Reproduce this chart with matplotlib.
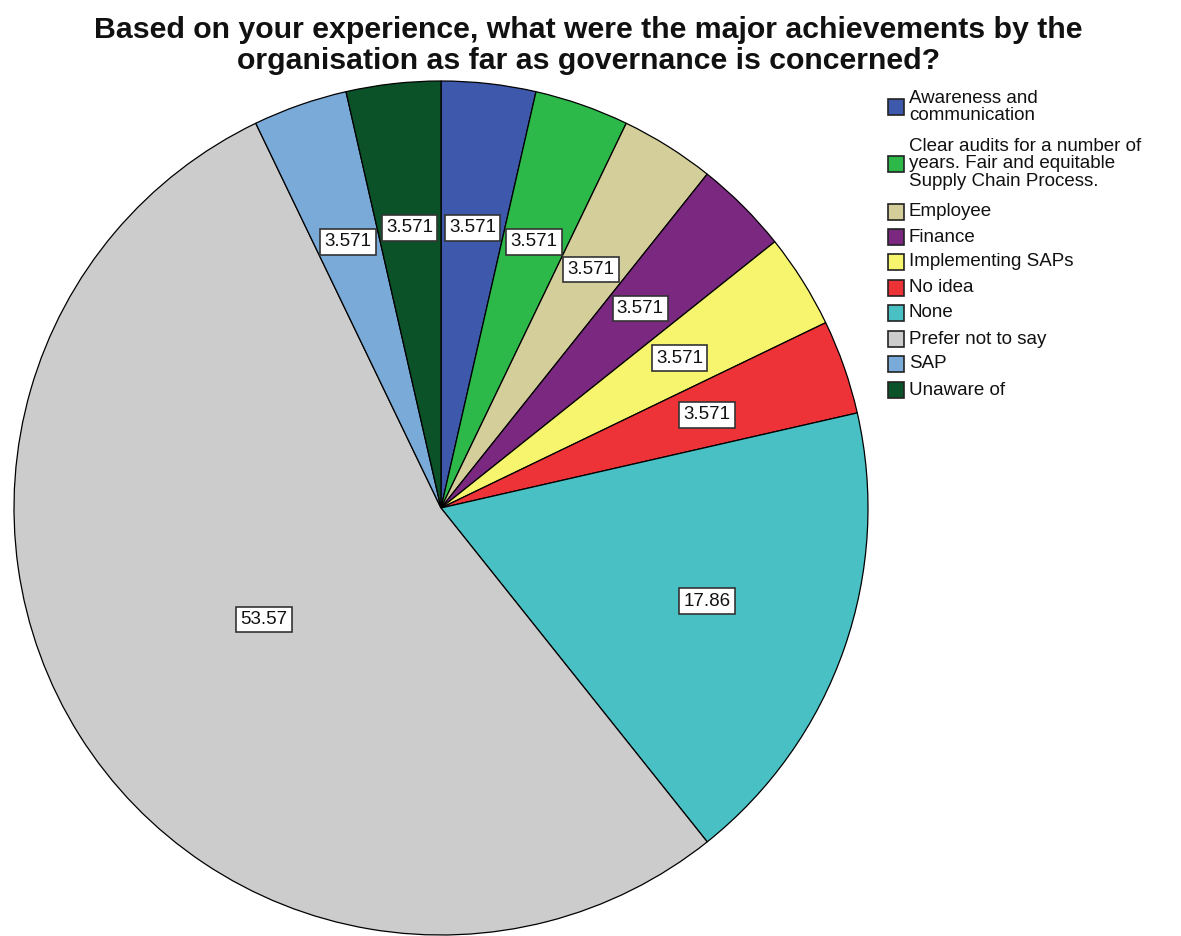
import matplotlib
matplotlib.use("Agg")
import matplotlib.pyplot as plt
import numpy as np
from matplotlib.patches import Rectangle

title = ("Based on your experience, what were the major achievements by the\n"
         "organisation as far as governance is concerned?")

categories = [
    "Awareness and\ncommunication",
    "Clear audits for a number of\nyears. Fair and equitable\nSupply Chain Process.",
    "Employee",
    "Finance",
    "Implementing SAPs",
    "No idea",
    "None",
    "Prefer not to say",
    "SAP",
    "Unaware of",
]
percentages = [3.571, 3.571, 3.571, 3.571, 3.571, 3.571, 17.86, 53.57, 3.571, 3.571]
value_labels = ["3.571", "3.571", "3.571", "3.571", "3.571", "3.571", "17.86", "53.57", "3.571", "3.571"]
colors = ["#3E58AC", "#2DB84A", "#D4CE9A", "#7A2880", "#F7F46E",
          "#EE3338", "#48C0C4", "#CCCCCC", "#7AAAD8", "#0B5229"]
# radial position of each value label, as a fraction of the radius
label_radius = [0.66, 0.66, 0.66, 0.66, 0.66, 0.66, 0.66, 0.49, 0.66, 0.66]

plt.rcParams["font.family"] = ["Liberation Sans", "DejaVu Sans"]

W, H = 1181, 936
fig = plt.figure(figsize=(W / 100, H / 100), dpi=100)
fig.patch.set_facecolor("white")

cx, cy, r = 441, 428, 427
ax = fig.add_axes([(cx - r) / W, (cy - r) / H, 2 * r / W, 2 * r / H])
wedges, _ = ax.pie(percentages, colors=colors, startangle=90, counterclock=False,
                   radius=1.0, wedgeprops=dict(edgecolor="black", linewidth=0.9))
ax.set_xlim(-1, 1)
ax.set_ylim(-1, 1)
ax.set_aspect("equal")
ax.axis("off")

total = sum(percentages)
cum = np.cumsum([0] + percentages[:-1])
for start, val, txt, rr in zip(cum, percentages, value_labels, label_radius):
    mid = (start + val / 2) / total * 360.0
    theta = np.deg2rad(90 - mid)
    ax.text(rr * np.cos(theta), rr * np.sin(theta), txt, ha="center", va="center",
            fontsize=13.5, color="#111111",
            bbox=dict(boxstyle="square,pad=0.22", facecolor="white",
                      edgecolor="#333333", linewidth=1.2))

fig.text(0.498, 0.983, title, ha="center", va="top", fontsize=21.8,
         fontweight="bold", linespacing=1.12, color="#111111")

# legend drawn row by row
row_y = [107, 164, 212, 237, 262, 288, 313, 339, 364, 390]
for yy, name, col in zip(row_y, categories, colors):
    fig.patches.append(Rectangle(((888) / W, 1 - (yy + 8) / H), 16 / W, 16 / H,
                                 transform=fig.transFigure, facecolor=col,
                                 edgecolor="#222222", linewidth=1.2))
    fig.text(909 / W, 1 - yy / H, name, ha="left", va="center", fontsize=13.5,
             linespacing=1.05, color="#111111")

fig.savefig("out.png", dpi=100, facecolor="white")
